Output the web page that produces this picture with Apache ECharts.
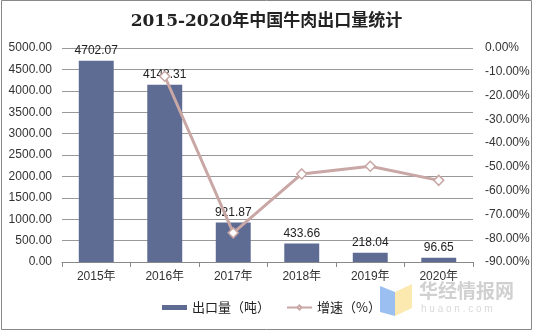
<!DOCTYPE html>
<html><head><meta charset="utf-8">
<script src="https://cdn.jsdelivr.net/npm/echarts@6/dist/echarts.min.js"></script>
<style>html,body{margin:0;padding:0;background:#fff}#c{width:533px;height:334px}</style>
</head><body><div id="c"></div>
<script>
var categories = ['2015年','2016年','2017年','2018年','2019年','2020年'];
var exportVolume = [4702.07, 4143.31, 921.87, 433.66, 218.04, 96.65];
var growthRate = [null, -11.88, -77.75, -52.96, -49.72, -55.67];
var titleText = '2015-2020年中国牛肉出口量统计';
var seriesNames = ['出口量（吨）', '增速（%）'];

var chart = echarts.init(document.getElementById('c'));
var font = '"Liberation Sans", Arial, "Noto Sans CJK SC", sans-serif';
chart.setOption({
  animation: false,
  textStyle: {fontFamily: font},
  title: {
    text: titleText, left: 'center', top: 8,
    textStyle: {fontSize: 17, fontWeight: 'bold', color: '#222', fontFamily: '"DejaVu Serif", "Noto Sans CJK SC", serif'}
  },
  grid: {left: 62, right: 60, top: 48, bottom: 72},
  legend: {
    bottom: 15, left: 157, itemGap: 16, itemWidth: 25, itemHeight: 5,
    textStyle: {fontSize: 13, color: '#222', fontFamily: '"Noto Sans CJK SC", sans-serif'},
    data: [
      {name: seriesNames[0], icon: 'rect'},
      {name: seriesNames[1]}
    ]
  },
  xAxis: {
    type: 'category', data: categories,
    axisLine: {lineStyle: {color: '#888'}},
    axisTick: {show: true, length: 5, lineStyle: {color: '#888'}},
    axisLabel: {fontSize: 12, color: '#333', margin: 9}
  },
  yAxis: [
    {type: 'value', min: 0, max: 5000, interval: 500,
     axisLine: {show: false}, axisTick: {show: false},
     axisLabel: {fontSize: 12, color: '#333', margin: 10, formatter: function(v){return v.toFixed(2);}},
     splitLine: {lineStyle: {color: '#999'}}},
    {type: 'value', min: -90, max: 0, interval: 10,
     axisLine: {show: false}, axisTick: {show: false},
     axisLabel: {fontSize: 12, color: '#333', margin: 12, formatter: function(v){return v.toFixed(2) + '%';}},
     splitLine: {show: false}}
  ],
  series: [
    {name: seriesNames[0], type: 'bar', data: exportVolume, barWidth: '51%',
     itemStyle: {color: '#5E6B93'},
     label: {show: true, position: 'top', fontSize: 12, color: '#222', distance: 4,
       formatter: function(p){return p.value.toFixed(2);}}},
    {name: seriesNames[1], type: 'line', yAxisIndex: 1, data: growthRate,
     symbol: 'diamond', symbolSize: 10, showAllSymbol: true,
     lineStyle: {color: '#C8A7A5', width: 3},
     itemStyle: {color: '#fff', borderColor: '#C8A7A5', borderWidth: 1.5}}
  ],
  graphic: [
    {type: 'rect', shape: {x: 1.5, y: 0.5, width: 530, height: 329}, style: {fill: 'none', stroke: '#888', lineWidth: 1}, z: 100},
    {type: 'polygon', shape: {points: [[380, 286], [395, 292], [395, 316], [380, 312]]}, style: {fill: 'rgba(120,170,235,0.75)'}},
    {type: 'polygon', shape: {points: [[395, 292], [412, 284], [412, 308], [395, 316]]}, style: {fill: 'rgba(250,225,150,0.75)'}},
    {type: 'text', left: 419, top: 281, style: {text: '华经情报网', fontSize: 19, fontWeight: 'bold', fill: 'rgba(170,170,170,0.55)', fontFamily: '"Noto Sans CJK SC", sans-serif'}},
    {type: 'text', left: 421, top: 304, style: {text: 'h u a o n . c o m', fontSize: 10, fill: 'rgba(170,170,170,0.45)'}}
  ]
});
</script></body></html>
